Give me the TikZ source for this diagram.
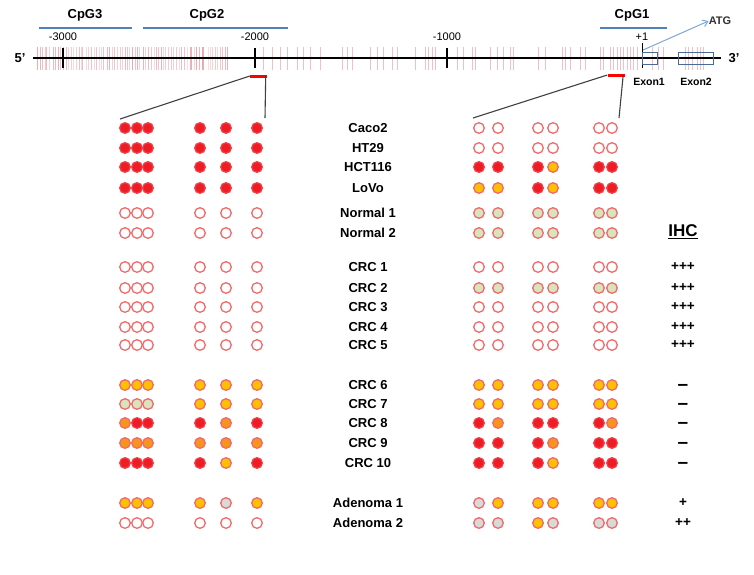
\documentclass[tikz,border=0pt]{standalone}
\usepackage{fontspec}
\setmainfont{Liberation Sans}
\usetikzlibrary{arrows.meta}
\definecolor{mred}{HTML}{EE1C24}
\definecolor{medge}{HTML}{F06A6A}
\definecolor{myel}{HTML}{FFC000}
\definecolor{mora}{HTML}{F7941D}
\definecolor{mgrn}{HTML}{D7E4BD}
\definecolor{mgry}{HTML}{D9D9D9}
\definecolor{cpgblue}{HTML}{4F81BD}
\definecolor{atgblue}{HTML}{7FA7D4}
\definecolor{exonblue}{HTML}{4A6A94}
\definecolor{sitepink}{HTML}{D84A5A}
\begin{document}
\begin{tikzpicture}[x=1pt,y=-1pt,
  dotbase/.style={circle,inner sep=0pt,minimum size=10.6pt,line width=1.3pt},
  dotR/.style={dotbase,fill=mred,draw=mred!85!white},
  dotW/.style={dotbase,fill=white,draw=medge},
  dotY/.style={dotbase,fill=myel,draw=medge},
  dotO/.style={dotbase,fill=mora,draw=medge},
  dotG/.style={dotbase,fill=mgrn,draw=medge},
  dotS/.style={dotbase,fill=mgry,draw=medge},
  lab/.style={font=\fontsize{13}{15}\selectfont\bfseries,inner sep=0pt},
  ihc/.style={font=\fontsize{13.5}{15}\selectfont\bfseries,inner sep=0pt},
  dashlab/.style={font=\fontsize{19}{20}\selectfont\bfseries,inner sep=0pt},
  cpglab/.style={font=\fontsize{13}{15}\selectfont\bfseries,inner sep=0pt},
  numlab/.style={font=\fontsize{11}{13}\selectfont,inner sep=0pt},
  exlab/.style={font=\fontsize{10.5}{12}\selectfont\bfseries,inner sep=0pt},
  cpgline/.style={cpgblue,line width=1.5pt},
  cpgsite/.style={sitepink,line width=0.7pt,opacity=0.35},
  majtick/.style={black,line width=2.4pt},
  zoomline/.style={black!75,line width=1.1pt},
  seg/.style={rectangle,fill=red,inner sep=0pt,minimum width=17pt,minimum height=3pt},
  exon/.style={rectangle,draw=exonblue,line width=0.8pt,inner sep=0pt,minimum height=12pt}
]
\useasboundingbox (0,0) rectangle (754,574);
\fill[white] (0,0) rectangle (754,574);

% CpG site marks
\pgfmathsetseed{11}
\foreach \i in {0,...,74}{
  \pgfmathsetmacro\xx{37+\i*2.58+0.9*rand}
  \pgfmathsetmacro\op{0.18+0.3*rnd}
  \draw[cpgsite,opacity=\op] (\xx,47) -- (\xx,70);
}
\foreach \xx in {263,272,280,287,297,303,310,320,342,347,352,370,377,383,392,397,415,425,428,432,435,457,463,472,475,490,497,503,510,513,538,545,562,565,570,580,585,600,603,610,613,617,620,623,627,630,633,637,652,658,663,685,688,692,697,700,703}{
  \draw[cpgsite] (\xx,47) -- (\xx,70);
}

% main line
\node[cpglab] (p5) at (20,58) {5'};
\node[cpglab] (p3) at (734,58) {3'};
\coordinate (lstart) at (33,58);
\coordinate (lend) at (721,58);
\draw[black,line width=2.4pt] (lstart) -- (lend);

% ticks and numbers
\foreach \xx/\t in {63/-3000,255/-2000,447/-1000}{
  \draw[majtick] (\xx,48) -- (\xx,68);
  \node[numlab] at (\xx,37) {\t};
}
\draw[black,line width=0.9pt] (642,43) -- (642,68);
\node[numlab] (plus1) at (642,37) {+1};

% CpG islands
\draw[cpgline] (39,28) -- (132,28);
\node[cpglab] (cpg3) at (85,15) {CpG3};
\draw[cpgline] (143,28) -- (288,28);
\node[cpglab] (cpg2) at (207,15) {CpG2};
\draw[cpgline] (600,28) -- (667,28);
\node[cpglab] (cpg1) at (632,15) {CpG1};

% exons
\node[exon,minimum width=15pt] (ex1) at (649.5,58) {};
\node[exon,minimum width=35pt] (ex2) at (695.5,58) {};
\node[exlab] at (649,82) {Exon1};
\node[exlab] at (696,82) {Exon2};
\node[font=\fontsize{11}{13}\selectfont\bfseries,inner sep=0pt,text=black!80] (atg) at (720,21) {ATG};
\coordinate (atgfrom) at (643,50);
\draw[atgblue,line width=1pt,-{Straight Barb[length=5pt,width=7pt]}] (atgfrom) -- (atg.west);

% analysed regions
\node[seg] (segL) at (258.5,76) {};
\node[seg] (segR) at (616,75) {};
\coordinate (zl1) at (120,119);
\coordinate (zr1) at (265,118);
\coordinate (zl2) at (473,118);
\coordinate (zr2) at (619,118);
\draw[zoomline] (segL.west) -- (zl1);
\draw[zoomline] ([xshift=-1.5pt]segL.east) -- (zr1);
\draw[zoomline] (segR.west) -- (zl2);
\draw[zoomline] ([xshift=-1.5pt]segR.east) -- (zr2);

% methylation rows
\newcommand\methrow[3]{%
  \foreach \c [count=\k] in {#3}{%
    \pgfmathsetmacro\xx{{125,137,148,200,226,257,479,498,538,553,599,612}[\k-1]}%
    \node[dot\c] (#2-\k) at (\xx,#1) {};
  }%
}
\methrow{128}{caco}{R,R,R,R,R,R,W,W,W,W,W,W}
\methrow{148}{ht}{R,R,R,R,R,R,W,W,W,W,W,W}
\methrow{167}{hct}{R,R,R,R,R,R,R,R,R,Y,R,R}
\methrow{188}{lovo}{R,R,R,R,R,R,Y,Y,R,Y,R,R}
\methrow{213}{nA}{W,W,W,W,W,W,G,G,G,G,G,G}
\methrow{233}{nB}{W,W,W,W,W,W,G,G,G,G,G,G}
\methrow{267}{c1}{W,W,W,W,W,W,W,W,W,W,W,W}
\methrow{288}{c2}{W,W,W,W,W,W,G,G,G,G,G,G}
\methrow{307}{c3}{W,W,W,W,W,W,W,W,W,W,W,W}
\methrow{327}{c4}{W,W,W,W,W,W,W,W,W,W,W,W}
\methrow{345}{c5}{W,W,W,W,W,W,W,W,W,W,W,W}
\methrow{385}{c6}{Y,Y,Y,Y,Y,Y,Y,Y,Y,Y,Y,Y}
\methrow{404}{c7}{G,G,G,Y,Y,Y,Y,Y,Y,Y,Y,Y}
\methrow{423}{c8}{O,R,R,R,O,R,R,O,R,R,R,O}
\methrow{443}{c9}{O,O,O,O,O,O,R,R,R,O,R,R}
\methrow{463}{c10}{R,R,R,R,Y,R,R,R,R,Y,R,R}
\methrow{503}{ad1}{Y,Y,Y,Y,S,Y,S,Y,Y,Y,Y,Y}
\methrow{523}{ad2}{W,W,W,W,W,W,S,S,Y,S,S,S}

% sample labels
\foreach \yy/\t/\n in {128/Caco2/caco,148/HT29/ht,167/HCT116/hct,188/LoVo/lovo,
  213/Normal 1/nA,233/Normal 2/nB,267/CRC 1/c1,288/CRC 2/c2,307/CRC 3/c3,
  327/CRC 4/c4,345/CRC 5/c5,385/CRC 6/c6,404/CRC 7/c7,423/CRC 8/c8,443/CRC 9/c9,
  463/CRC 10/c10,503/Adenoma 1/ad1,523/Adenoma 2/ad2}{
  \node[lab] (lab-\n) at (368,\yy) {\t};
}

% IHC column
\node[font=\fontsize{17}{19}\selectfont\bfseries,inner sep=0pt] (ihchead) at (683,232) {\underline{IHC}};
\foreach \yy/\t/\n in {267/+++/c1,288/+++/c2,307/+++/c3,327/+++/c4,345/+++/c5,
  503/+/ad1,523/++/ad2}{
  \node[ihc] (ihc-\n) at (683,\yy) {\t};
}
\foreach \yy/\n in {385/c6,404/c7,423/c8,443/c9,463/c10}{
  \node[dashlab] (ihc-\n) at (683,\yy+2) {–};
}
\end{tikzpicture}
\end{document}
